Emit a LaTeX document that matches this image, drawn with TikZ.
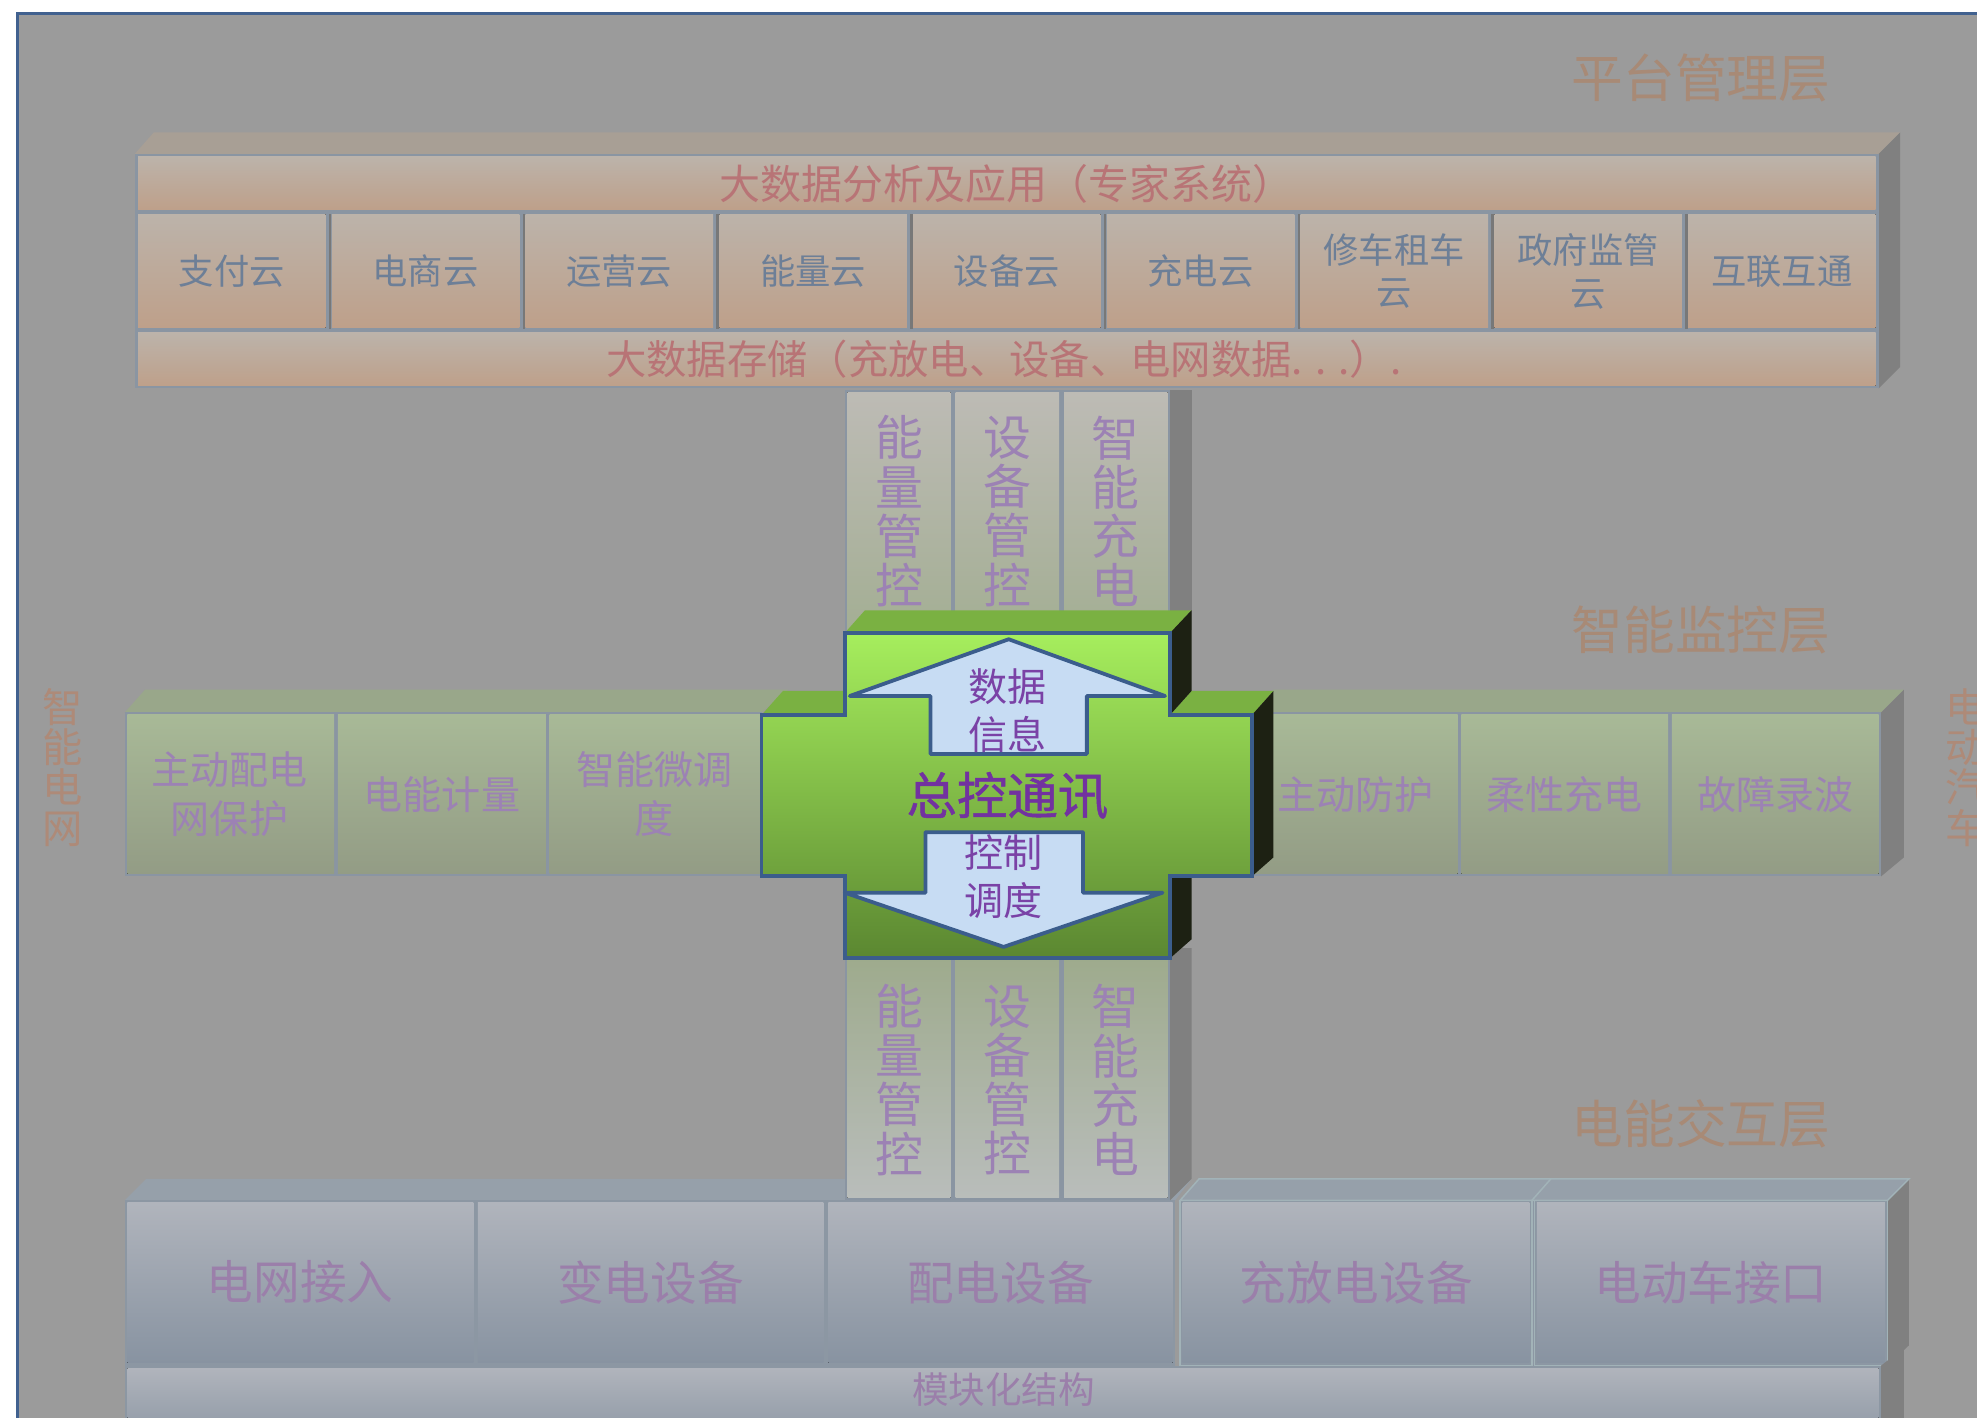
\documentclass[tikz,border=0pt]{standalone}
\usepackage{fontspec}
\setmainfont{Noto Sans CJK SC}
\newfontfamily\semibold[FakeBold=1]{Noto Sans CJK SC}
\newcommand\fsz[2]{\fontsize{#1pt}{#2pt}\selectfont}
\definecolor{bggray}{HTML}{9B9B9B}
\definecolor{framecol}{HTML}{41618F}
\definecolor{titlecol}{HTML}{A88A76}
\definecolor{sidelblcol}{HTML}{AE8A78}
\definecolor{topfacecol}{HTML}{A89F95}
\definecolor{sidegray}{HTML}{808080}
\definecolor{bordercol}{HTML}{8A95A2}
\definecolor{darkline}{HTML}{787878}
\definecolor{tanTop}{HTML}{BCB3AA}
\definecolor{tanBot}{HTML}{BEA08A}
\definecolor{cloudtxt}{HTML}{6D7F97}
\definecolor{redtxt}{HTML}{B87476}
\definecolor{colTopA}{HTML}{BDBBB5}
\definecolor{colBotA}{HTML}{A3AE93}
\definecolor{colTopB}{HTML}{9DAA8B}
\definecolor{colBotB}{HTML}{B9BDBB}
\definecolor{purptxt}{HTML}{9C82B4}
\definecolor{midTop}{HTML}{A8B997}
\definecolor{midBot}{HTML}{939C85}
\definecolor{midFace}{HTML}{99A78A}
\definecolor{greenTop}{HTML}{A6EE5D}
\definecolor{greenMid}{HTML}{8FCF4E}
\definecolor{greenBot}{HTML}{5B8731}
\definecolor{greenFace}{HTML}{7AB142}
\definecolor{greenSide}{HTML}{1D2113}
\definecolor{greenLine}{HTML}{3B5D8C}
\definecolor{arrowFill}{HTML}{C7DCF3}
\definecolor{arrtxt}{HTML}{7A42A6}
\definecolor{maintxt}{HTML}{7232A0}
\definecolor{botFace}{HTML}{96A0AA}
\definecolor{botTop}{HTML}{B0B4BC}
\definecolor{botBot}{HTML}{8893A1}
\definecolor{botBorder}{HTML}{8C97A3}
\definecolor{lightedge}{HTML}{A2B3B8}
\definecolor{bottxt}{HTML}{9B7FAA}
\begin{document}
\begin{tikzpicture}[x=1pt,y=-1pt,line join=miter,
  title/.style={font=\fsz{41}{48},text=titlecol,inner sep=0},
  sidelbl/.style={font=\fsz{32}{32},text=sidelblcol,align=center,inner sep=0},
  tancell/.style={top color=tanTop,bottom color=tanBot},
  cloudlbl/.style={font=\fsz{28}{34},text=cloudtxt,align=center,inner sep=0},
  barlbl/.style={font=\fsz{32.5}{36},text=redtxt,inner sep=0},
  colA/.style={top color=colTopA,bottom color=colBotA},
  colB/.style={top color=colTopB,bottom color=colBotB},
  collbl/.style={font=\fsz{38}{39},text=purptxt,align=center,inner sep=0},
  midcell/.style={top color=midTop,bottom color=midBot},
  midlbl/.style={font=\fsz{31}{39},text=purptxt,align=center,inner sep=0},
  botcell/.style={top color=botTop,bottom color=botBot},
  botlbl/.style={font=\fsz{37}{44},text=bottxt,inner sep=0},
  greenfront/.style={top color=greenTop,middle color=greenMid,bottom color=greenBot,draw=greenLine,line width=3},
  arrowsty/.style={fill=arrowFill,draw=greenLine,line width=3,line join=round},
  arrlbl/.style={font=\fsz{31}{38},text=arrtxt,align=center,inner sep=0},
  mainlbl/.style={font=\semibold\fsz{40}{46},text=maintxt,inner sep=0}]
\path[use as bounding box] (0,0) rectangle (1568,1124);
\clip (0,0) rectangle (1568,1124);
\fill[white] (0,0) rectangle (1568,1124);
\fill[bggray] (14.2,10.6) rectangle (1580,1140);
\draw[framecol,line width=2.5] (14.2,1140) -- (14.2,10.6) -- (1580,10.6);

% layer titles
\node[title] (t1) at (1349,62) {平台管理层};
\node[title] (t2) at (1349,500) {智能监控层};
\node[title] (t3) at (1349,891) {电能交互层};

% ===== top block =====
\fill[topfacecol] (107,122) -- (122,105) -- (1507,105) -- (1490,122) -- cycle;
\fill[sidegray] (1490,122) -- (1507,105) -- (1507,291) -- (1490,308) -- cycle;
\fill[bordercol] (107,122) rectangle (1490,308);
\fill[tancell] (109.5,124.5) rectangle (1487.5,166);
\fill[tancell] (109.5,264) rectangle (1487.5,306);
\foreach \i in {0,...,8} {
  \pgfmathsetmacro\xa{107+153.667*\i+2.5}
  \pgfmathsetmacro\xb{107+153.667*(\i+1)-2.5}
  \fill[tancell] (\xa,170) rectangle (\xb,260);
}
\foreach \i in {1,...,8} {
  \pgfmathsetmacro\xa{107+153.667*\i+1.2}
  \draw[darkline,line width=2] (\xa,170) -- (\xa,261);
}
\node[barlbl] (bigA) at (798.5,145.5) {大数据分析及应用（专家系统）};
\node[barlbl,font=\fsz{32}{36}] (bigB) at (796,285) {大数据存储（充放电、设备、电网数据. . .）.};
\node[cloudlbl] (c1) at (183.8,215) {支付云};
\node[cloudlbl] (c2) at (337.5,215) {电商云};
\node[cloudlbl] (c3) at (491.2,215) {运营云};
\node[cloudlbl] (c4) at (644.8,215) {能量云};
\node[cloudlbl] (c5) at (798.5,215) {设备云};
\node[cloudlbl] (c6) at (952.2,215) {充电云};
\node[cloudlbl] (c7) at (1105.8,215) {修车租车\\云};
\node[cloudlbl] (c8) at (1259.5,215) {政府监管\\云};
\node[cloudlbl] (c9) at (1413.2,215) {互联互通};

% ===== upper columns =====
\fill[bordercol] (670,309) rectangle (928,505);
\foreach \i in {0,1,2} {
  \fill[colA] (672+86*\i,311) rectangle (754+86*\i,505);
}
\fill[sidegray] (928,309) rectangle (945,500);
\node[collbl] (u1) at (713,405.5) {能\\量\\管\\控};
\node[collbl] (u2) at (799,405.5) {设\\备\\管\\控};
\node[collbl] (u3) at (885,405.5) {智\\能\\充\\电};

% ===== bottom layer, left block =====
\fill[botFace] (99,952) -- (116,935) -- (945,935) -- (932,952) -- cycle;
\fill[botBorder] (99,952) rectangle (932,1083);
\fill[botcell] (101,954) rectangle (375.5,1081);
\fill[botcell] (379,954) rectangle (653,1081);
\fill[botcell] (657,954) rectangle (930,1081);

% ===== lower columns =====
\fill[bordercol] (670,752) rectangle (928,952);
\foreach \i in {0,1,2} {
  \fill[colB] (672+86*\i,752) rectangle (754+86*\i,950);
}
\fill[sidegray] (928,752) -- (945,752) -- (945,935) -- (928,952) -- cycle;
\node[collbl] (d1) at (713,856.5) {能\\量\\管\\控};
\node[collbl] (d2) at (799,856.5) {设\\备\\管\\控};
\node[collbl] (d3) at (885,856.5) {智\\能\\充\\电};

% ===== bottom layer, right block =====
\fill[botFace] (936,952) -- (951,935) -- (1514,935) -- (1497,952) -- cycle;
\fill[sidegray] (1497,952) -- (1514,935) -- (1514,1067) -- (1497,1083) -- cycle;
\fill[botBorder] (936,952) rectangle (1497,1083);
\fill[botcell] (938,954) rectangle (1213,1081);
\fill[botcell] (1219,954) rectangle (1495,1081);
\draw[lightedge,line width=1.2] (936,952) -- (951,935) -- (1514,935) -- (1497,952) -- cycle;
\draw[lightedge,line width=1.2] (1215,952) -- (1230,935);
\draw[lightedge,line width=1.2] (936,952) rectangle (1215,1083);
\draw[lightedge,line width=1.2] (1217,952) rectangle (1497,1083);

% ===== bottom bar =====
\fill[sidegray] (1492,1083) -- (1510,1069) -- (1510,1140) -- (1492,1140) -- cycle;
\fill[botBorder] (99,1083) rectangle (1492,1140);
\fill[botcell] (101,1085) rectangle (1490,1150);
\node[font=\fsz{29}{34},text=bottxt,inner sep=0] (mod) at (796,1102) {模块化结构};

\node[botlbl] (b1) at (238,1017) {电网接入};
\node[botlbl] (b2) at (516,1017) {变电设备};
\node[botlbl] (b3) at (793.5,1017) {配电设备};
\node[botlbl] (b4) at (1075.5,1017) {充放电设备};
\node[botlbl] (b5) at (1357,1017) {电动车接口};

% ===== middle layer, left block =====
\fill[midFace] (99,565) -- (115,547) -- (625,547) -- (604,565) -- cycle;
\fill[bordercol] (99,565) rectangle (604,695);
\fill[midcell] (101,567) rectangle (265,693);
\fill[midcell] (268,567) rectangle (433,693);
\fill[midcell] (436,567) rectangle (604,693);
\node[midlbl] (m1) at (182,630) {主动配电\\网保护};
\node[midlbl] (m2) at (350.5,630) {电能计量};
\node[midlbl] (m3) at (519,630) {智能微调\\度};

% ===== middle layer, right block =====
\fill[midFace] (993,565) -- (1010,547) -- (1510,547) -- (1492,565) -- cycle;
\fill[sidegray] (1492,565) -- (1510,547) -- (1510,680) -- (1492,695) -- cycle;
\fill[bordercol] (993,565) rectangle (1492,695);
\fill[midcell] (995,567) rectangle (1156,693);
\fill[midcell] (1159,567) rectangle (1323,693);
\fill[midcell] (1326,567) rectangle (1490,693);
\node[midlbl] (m4) at (1075,630) {主动防护};
\node[midlbl] (m5) at (1241,630) {柔性充电};
\node[midlbl] (m6) at (1408,630) {故障录波};

% ===== green cross =====
\fill[greenFace] (670,502) -- (686,484) -- (945,484) -- (928,502) -- cycle;
\fill[greenFace] (604,567) -- (621,548) -- (680,548) -- (670,567) -- cycle;
\fill[greenFace] (928,567) -- (945,548) -- (1010,548) -- (993,567) -- cycle;
\fill[greenSide] (928,502) -- (945,484) -- (945,548) -- (928,567) -- cycle;
\fill[greenSide] (993,567) -- (1010,548) -- (1010,680) -- (993,695) -- cycle;
\fill[greenSide] (928,695) -- (945,680) -- (945,745) -- (928,760) -- cycle;
\path[greenfront] (670,502) -- (928,502) -- (928,567) -- (993,567) -- (993,695)
  -- (928,695) -- (928,760) -- (670,760) -- (670,695) -- (604,695) -- (604,567)
  -- (670,567) -- cycle;
\draw[arrowsty] (800,507) -- (924,552) -- (862,552) -- (862,598) -- (738,598)
  -- (738,552) -- (674,552) -- cycle;
\draw[arrowsty] (734,660) -- (859,660) -- (859,708) -- (922,708) -- (796,751)
  -- (670,708) -- (734,708) -- cycle;
\node[arrlbl] (sj) at (799,564) {数据\\信息};
\node[arrlbl] (kz) at (796,695) {控制\\调度};
\node[mainlbl] (zk) at (799,631) {总控通讯};

% ===== side labels (the right one is cut by the page edge, as in the reference) =====
\node[sidelbl] (zn) at (50,608.5) {智\\能\\电\\网};
\node[sidelbl] (dd) at (1559,608.5) {电\\动\\汽\\车};
\end{tikzpicture}
\end{document}
